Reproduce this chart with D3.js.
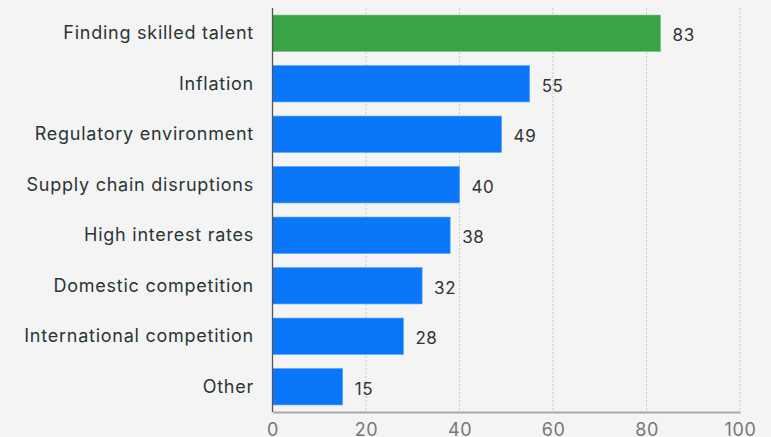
<!DOCTYPE html>
<html><head><meta charset="utf-8">
<script src="https://cdn.jsdelivr.net/npm/d3@7"></script>
<style>
html,body{margin:0;padding:0;background:#f4f4f4;}
svg{display:block;}
</style></head>
<body>
<svg id="c" width="771" height="437"></svg>
<script>
const categories = ["Finding skilled talent","Inflation","Regulatory environment","Supply chain disruptions","High interest rates","Domestic competition","International competition","Other"];
const values = [83,55,49,40,38,32,28,15];
const highlight = ["Finding skilled talent"];
const tickValues = [0,20,40,60,80,100];

const svg = d3.select("#c");
const W = 771, H = 437;
svg.append("rect").attr("width",W).attr("height",H).attr("fill","#f4f4f4");
const font = "Inter, 'Open Sans', sans-serif";

const x = d3.scaleLinear().domain([0,100]).range([272.5,740]);
const y = d3.scaleBand().domain(categories).range([8,412]).paddingInner(0.28).paddingOuter(0.14);

// gridlines
svg.append("g").selectAll("line").data(tickValues.filter(d=>d>0)).join("line")
  .attr("x1",d=>x(d)).attr("x2",d=>x(d)).attr("y1",8).attr("y2",412)
  .attr("stroke","#c8c8c8").attr("stroke-width",1).attr("stroke-dasharray","2,2");

// bars
svg.append("g").selectAll("rect").data(categories).join("rect")
  .attr("x",x(0)).attr("y",d=>y(d))
  .attr("width",(d,i)=>x(values[i])-x(0)).attr("height",y.bandwidth())
  .attr("fill",d=>highlight.includes(d)?"#3aa345":"#0a77fb")
  .attr("stroke",d=>highlight.includes(d)?"#6dbd74":"#4f9cfc").attr("stroke-width",0.6);

// value labels
svg.append("g").selectAll("text").data(categories).join("text")
  .attr("x",(d,i)=>x(values[i])+12).attr("y",d=>y(d)+y.bandwidth()/2+8)
  .attr("font-family",font).attr("font-size",17).attr("letter-spacing",0.6).attr("fill","#333")
  .text((d,i)=>values[i]);

// category labels
svg.append("g").selectAll("text").data(categories).join("text")
  .attr("x",254).attr("y",d=>y(d)+y.bandwidth()/2+6)
  .attr("text-anchor","end")
  .attr("font-family",font).attr("font-size",18).attr("letter-spacing",0.75).attr("fill","#2a3535")
  .text(d=>d);

// y axis line
svg.append("line").attr("x1",x(0)).attr("x2",x(0)).attr("y1",8).attr("y2",412)
  .attr("stroke","#555").attr("stroke-width",1.3);

// x axis
const xa = svg.append("g").attr("transform","translate(0,412)")
  .call(d3.axisBottom(x).tickValues(tickValues).tickSize(0).tickPadding(11));
xa.select(".domain").attr("stroke","#a8a8a8").attr("stroke-width",2);
xa.selectAll("text").attr("font-family",font).attr("font-size",18).attr("letter-spacing",0.6).attr("fill","#777");
</script>
</body></html>
